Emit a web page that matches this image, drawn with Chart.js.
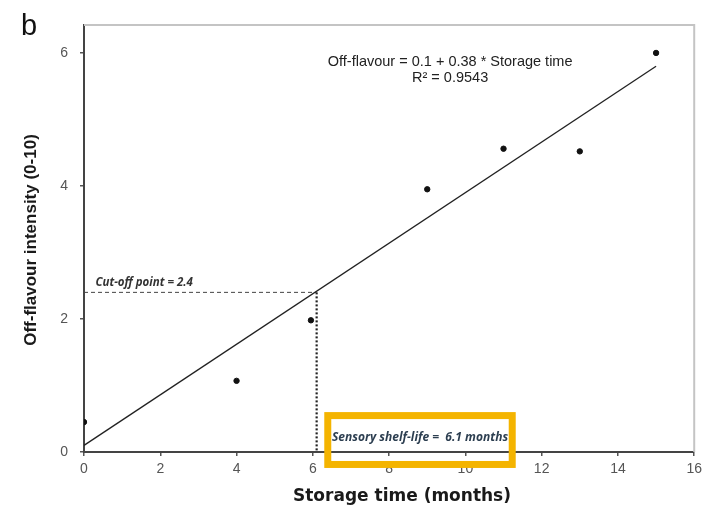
<!DOCTYPE html>
<html>
<head>
<meta charset="utf-8">
<script src="https://cdn.jsdelivr.net/npm/chart.js@4/dist/chart.umd.min.js"></script>
<style>
  html, body { margin: 0; padding: 0; background: #fff; }
  #wrap { width: 707px; height: 509px; position: relative; }
</style>
</head>
<body>
<div id="wrap"><canvas id="shelfChart" width="707" height="509"></canvas></div>
<script>
// storage time (months) and off-flavour intensity
var storageMonths = [0, 4, 5.95, 9, 11, 13, 15];
var offFlavour    = [0.45, 1.07, 1.98, 3.95, 4.56, 4.52, 6.0];

// fitted line: Off-flavour = 0.1 + 0.38 * Storage time
var intercept = 0.1;
var slope = 0.38;
var fitRange = [0, 15];

var cutOff = 2.4;
var shelfLife = 6.1;

var xTicks = [0, 2, 4, 6, 8, 10, 12, 14, 16];
var yTicks = [0, 2, 4, 6];

var pts = [];
for (var i in storageMonths) {
    pts.push({x: storageMonths[i], y: offFlavour[i]});
}
var fitLine = fitRange.map(function (t) { return {x: t, y: intercept + slope * t}; });
var cutLine = [{x: 0, y: cutOff}, {x: shelfLife, y: cutOff}];
var lifeLine = [{x: shelfLife, y: cutOff}, {x: shelfLife, y: 0}];

// extra drawing: frame, panel letter, equation, labels, yellow box
var extras = {
    id: 'extras',
    beforeDatasetsDraw: function (chart) {
        var c = chart.ctx, a = chart.chartArea;
        c.save();
        c.strokeStyle = '#c4c4c4';
        c.lineWidth = 2;
        c.beginPath();
        c.moveTo(a.left, a.top);
        c.lineTo(a.right, a.top);
        c.lineTo(a.right, a.bottom);
        c.stroke();
        c.restore();
    },
    afterDraw: function (chart) {
        var c = chart.ctx;
        var xs = chart.scales.x, ys = chart.scales.y;
        c.save();
        c.fillStyle = '#111';
        c.font = '29px "Liberation Sans", Arial, sans-serif';
        c.textAlign = 'left';
        c.textBaseline = 'alphabetic';
        c.fillText('b', 21, 35);

        // axis titles
        c.fillStyle = '#1a1a1a';
        c.font = 'bold 17px "DejaVu Sans", Verdana, sans-serif';
        c.textAlign = 'center';
        c.textBaseline = 'middle';
        c.fillText('Storage time (months)', 402, 497);
        c.save();
        c.translate(31, 240);
        c.rotate(-Math.PI / 2);
        c.font = 'bold 17px "Liberation Sans", Arial, sans-serif';
        c.fillText('Off-flavour intensity (0-10)', 0, 0);
        c.restore();

        c.fillStyle = '#222';
        c.font = '14.5px "Liberation Sans", Arial, sans-serif';
        c.textAlign = 'center';
        c.textBaseline = 'middle';
        var ex = xs.getPixelForValue(9.6);
        c.fillText('Off-flavour = 0.1 + 0.38 * Storage time', ex, ys.getPixelForValue(5.86));
        c.fillText('R\u00b2 = 0.9543', ex, ys.getPixelForValue(5.62));

        c.font = 'italic bold 11.5px "Open Sans", sans-serif';
        c.textAlign = 'left';
        c.fillStyle = '#333';
        c.fillText('Cut-off point = 2.4', xs.getPixelForValue(0.3), ys.getPixelForValue(2.54));

        // highlighted shelf-life box
        var bl = xs.getPixelForValue(6.3), br = xs.getPixelForValue(11.32);
        var bt = ys.getPixelForValue(0.6), bb = ys.getPixelForValue(-0.24);
        c.strokeStyle = '#f4b400';
        c.lineWidth = 7;
        c.strokeRect(bl + 3.5, bt + 3.5, br - bl - 7, bb - bt - 7);
        c.fillStyle = '#2c3e50';
        c.font = 'italic bold 12px "Open Sans", sans-serif';
        c.textAlign = 'center';
        c.fillText('Sensory shelf-life =  6.1 months', (bl + br) / 2, ys.getPixelForValue(0.21));
        c.restore();
    }
};

var ctx = document.getElementById('shelfChart').getContext('2d');
var chart = new Chart(ctx, {
    type: 'scatter',
    data: {
        datasets: [
            {
                label: 'Observed',
                data: pts,
                backgroundColor: '#111',
                borderColor: '#111',
                pointRadius: 2.7,
                order: 0
            },
            {
                type: 'line',
                label: 'Fit',
                data: fitLine,
                borderColor: '#222',
                borderWidth: 1.3,
                pointRadius: 0,
                fill: false,
                order: 1
            },
            {
                type: 'line',
                label: 'Cut-off',
                data: cutLine,
                borderColor: '#444',
                borderWidth: 1,
                borderDash: [4, 3],
                pointRadius: 0,
                fill: false,
                order: 2
            },
            {
                type: 'line',
                label: 'Shelf life',
                data: lifeLine,
                borderColor: '#222',
                borderWidth: 2.2,
                borderDash: [2, 2],
                pointRadius: 0,
                fill: false,
                order: 2
            }
        ]
    },
    options: {
        responsive: false,
        animation: false,
        layout: {padding: {top: 25, right: 11, left: 0, bottom: 0}},
        plugins: {
            legend: {display: false},
            tooltip: {enabled: false}
        },
        scales: {
            x: {
                type: 'linear',
                min: 0,
                max: 16,
                afterBuildTicks: function (s) { s.ticks = xTicks.map(function (v) { return {value: v}; }); },
                afterFit: function (s) { s.height = 57; },
                grid: {drawOnChartArea: false, color: '#555', tickLength: 4, lineWidth: 1.5},
                border: {color: '#444', width: 2},
                ticks: {color: '#555', font: {size: 14, family: '"Liberation Sans", Arial'}, padding: 5, maxRotation: 0}
            },
            y: {
                type: 'linear',
                min: 0,
                max: 6.42,
                afterBuildTicks: function (s) { s.ticks = yTicks.map(function (v) { return {value: v}; }); },
                afterFit: function (s) { s.width = 84; },
                grid: {drawOnChartArea: false, color: '#555', tickLength: 4, lineWidth: 1.5},
                border: {color: '#444', width: 2},
                ticks: {color: '#555', font: {size: 14, family: '"Liberation Sans", Arial'}, padding: 12}
            }
        }
    },
    plugins: [extras]
});
</script>
</body>
</html>
